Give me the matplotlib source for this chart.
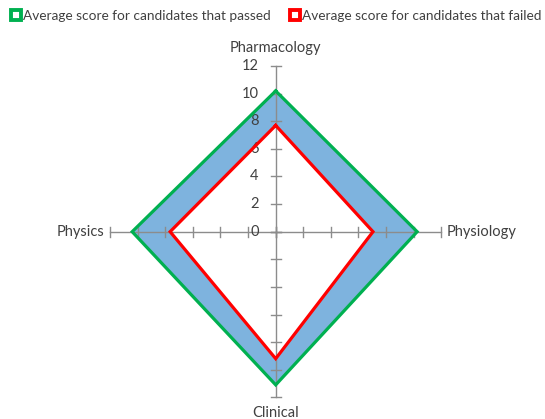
import numpy as np
import matplotlib
matplotlib.use("Agg")
import matplotlib.pyplot as plt
from matplotlib.lines import Line2D

categories = ["Pharmacology", "Physiology", "Clinical", "Physics"]
passed = [10.2, 10.25, 11.1, 10.4]
failed = [7.7, 7.05, 9.2, 7.65]
tick_values = [0, 2, 4, 6, 8, 10, 12]
series_names = ["Average score for candidates that passed",
                "Average score for candidates that failed"]

plt.rcParams['font.family'] = ['Lato', 'DejaVu Sans']

W, H = 545, 419
fig = plt.figure(figsize=(W / 100, H / 100), dpi=100)
ax = fig.add_axes([0, 0, 1, 1])
ax.set_axis_off()

scale = 13.8  # px per unit
cx, cy = 275.7, 231.7  # pixel center (from top)
ax.set_xlim(-cx / scale, (W - cx) / scale)
ax.set_ylim(-(H - cy) / scale, cy / scale)

angles = np.pi / 2 - np.arange(len(categories)) * 2 * np.pi / len(categories)

def to_xy(vals):
    v = np.asarray(vals, dtype=float)
    x = v * np.cos(angles)
    y = v * np.sin(angles)
    return np.append(x, x[0]), np.append(y, y[0])

px, py = to_xy(passed)
fx, fy = to_xy(failed)

green = "#00B050"
red = "#FF0000"
blue = "#7EB3DE"
gray = "#8C8C8C"

ax.fill(px, py, color=blue, zorder=1, lw=0)
ax.fill(fx, fy, color="white", zorder=1.5, lw=0)

rmax = max(tick_values)
tl = 0.36
for a in angles:
    ax.plot([0, rmax * np.cos(a)], [0, rmax * np.sin(a)], color=gray, lw=1.0, zorder=2)
    for t in tick_values:
        x0, y0 = t * np.cos(a), t * np.sin(a)
        dx, dy = -np.sin(a) * tl, np.cos(a) * tl
        ax.plot([x0 - dx, x0 + dx], [y0 - dy, y0 + dy], color=gray, lw=1.0, zorder=2)

for t in tick_values:
    ax.text(-17 / scale, t, str(t), ha="right", va="center", fontsize=10.5,
            color="#404040", zorder=3)

ax.plot(px, py, color=green, lw=2.3, zorder=4, solid_joinstyle="miter")
ax.plot(fx, fy, color=red, lw=2.3, zorder=4, solid_joinstyle="miter")

ax.text(0, rmax + 1.3, categories[0], ha="center", va="center", fontsize=10.5, color="#404040")
ax.text(rmax + 0.4, 0, categories[1], ha="left", va="center", fontsize=10.5, color="#404040")
ax.text(0, -(rmax + 0.6), categories[2], ha="center", va="top", fontsize=10.5, color="#404040")
ax.text(-(rmax + 0.45), 0, categories[3], ha="right", va="center", fontsize=10.5, color="#404040")

handles = [
    Line2D([], [], marker="s", ls="none", markersize=6.5, markerfacecolor="white",
           markeredgecolor=green, markeredgewidth=2.8),
    Line2D([], [], marker="s", ls="none", markersize=6.5, markerfacecolor="white",
           markeredgecolor=red, markeredgewidth=2.8),
]
leg = fig.legend(handles, series_names, loc="upper center", bbox_to_anchor=(0.507, 1.0),
                 ncol=2, frameon=False, fontsize=9.8, handlelength=0.8,
                 handletextpad=0.1, columnspacing=1.4, borderaxespad=0.3)
for t in leg.get_texts():
    t.set_color("#404040")

fig.savefig("out.png", dpi=100)
